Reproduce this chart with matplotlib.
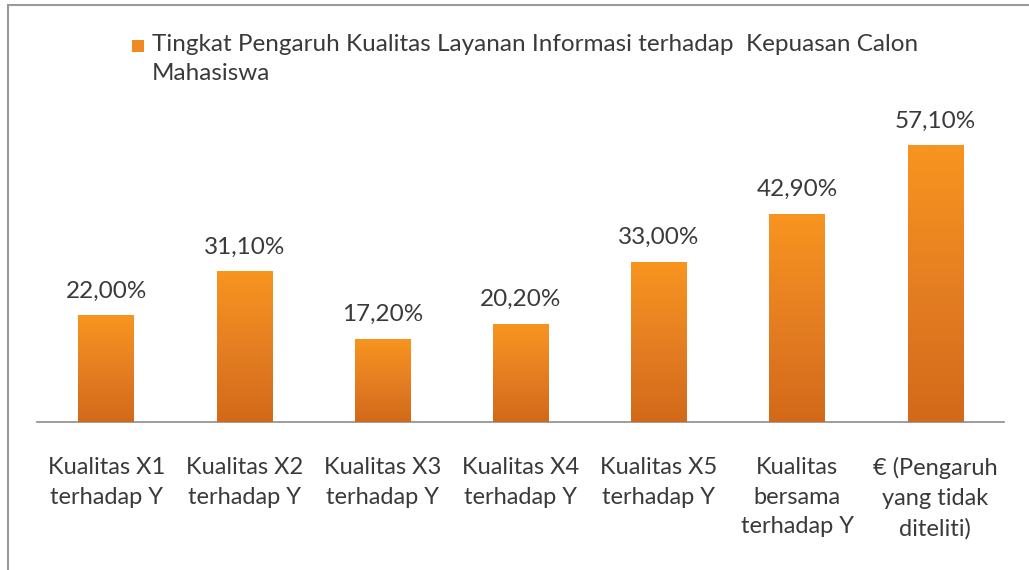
import numpy as np
import matplotlib.pyplot as plt
from matplotlib.colors import LinearSegmentedColormap
from matplotlib.patches import Rectangle

plt.rcParams['font.family'] = ['Lato', 'DejaVu Sans']

categories = [
    "Kualitas X1\nterhadap Y",
    "Kualitas X2\nterhadap Y",
    "Kualitas X3\nterhadap Y",
    "Kualitas X4\nterhadap Y",
    "Kualitas X5\nterhadap Y",
    "Kualitas\nbersama\nterhadap Y",
    "€ (Pengaruh\nyang tidak\nditeliti)",
]
values = [22.0, 31.1, 17.2, 20.2, 33.0, 42.9, 57.1]
value_labels = ["22,00%", "31,10%", "17,20%", "20,20%", "33,00%", "42,90%", "57,10%"]
series_name = ("Tingkat Pengaruh Kualitas Layanan Informasi terhadap  Kepuasan Calon\n"
               "Mahasiswa")

TEXT = '#3a3a3a'
BAR = '#ee8a20'
orange_cmap = LinearSegmentedColormap.from_list('bar', ['#d2691a', '#e57f22', '#f8951f'])

fig = plt.figure(figsize=(10.29, 5.70), dpi=100)
ax = fig.add_axes((0.036, 0.2596, 0.94, 0.510))

x = np.arange(len(categories))
bars = ax.bar(x, values, width=0.40, color=BAR, edgecolor='none', zorder=2)

# vertical gradient inside each bar
grad = np.linspace(0, 1, 256).reshape(-1, 1)
for b in bars:
    bx, by = b.get_x(), b.get_y()
    bw, bh = b.get_width(), b.get_height()
    im = ax.imshow(grad, cmap=orange_cmap, origin='lower', aspect='auto',
                   extent=(bx, bx + bw, by, by + bh), zorder=3)
    im.set_clip_path(b)

for xi, v, lab in zip(x, values, value_labels):
    ax.annotate(lab, (xi, v), xytext=(0, 10), textcoords='offset points',
                ha='center', va='bottom', fontsize=17.5, color=TEXT)

ax.set_xlim(-0.5, len(categories) - 0.5)
ax.set_ylim(0, 60)
ax.set_xticks(x)
ax.set_xticklabels(categories, fontsize=17, color=TEXT, linespacing=1.52)
ax.tick_params(axis='x', length=0, pad=25)
ax.set_yticks([])
for side in ['top', 'right', 'left']:
    ax.spines[side].set_visible(False)
ax.spines['bottom'].set_color('#8c8c8c')
ax.spines['bottom'].set_linewidth(1.2)

# legend: square key aligned with the first line of the series name
fig.patches.append(Rectangle((132 / 1029, 1 - 52 / 570), 12 / 1029, 12 / 570,
                             transform=fig.transFigure, facecolor=BAR,
                             edgecolor='none'))
fig.text(152 / 1029, 1 - 34 / 570, series_name, ha='left', va='top',
         fontsize=17.5, color=TEXT, linespacing=1.5)

# outer chart border
fig.patches.append(Rectangle((0.008, -0.05), 1.05, 1.041,
                             transform=fig.transFigure, fill=False,
                             edgecolor='#9a9a9a', linewidth=1.5))

fig.savefig('out.png', dpi=100)
